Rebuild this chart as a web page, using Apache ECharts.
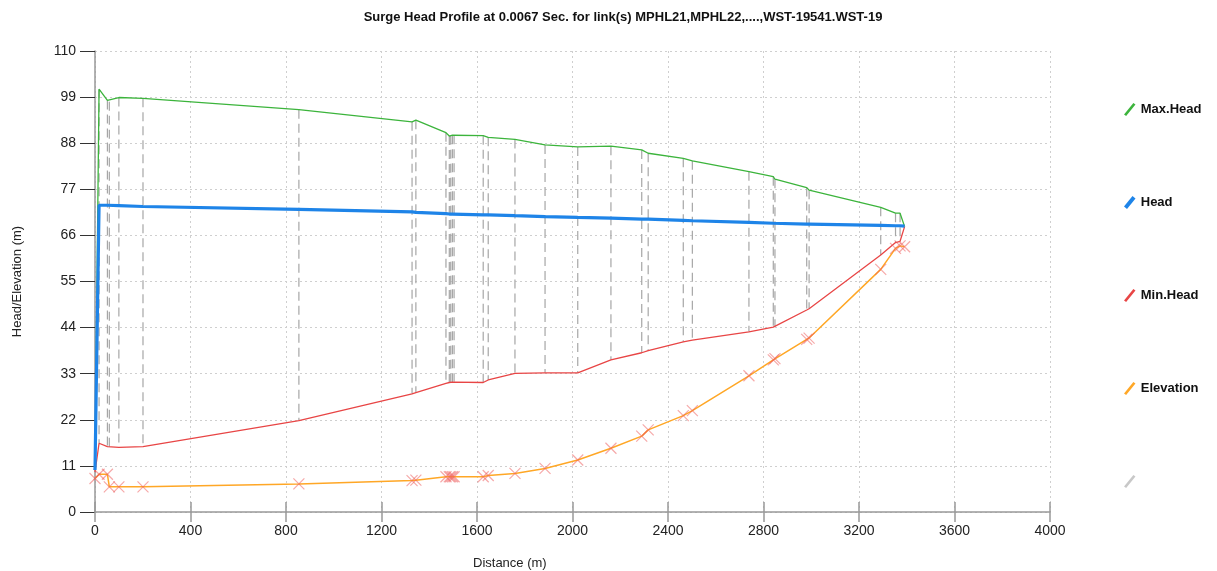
<!DOCTYPE html>
<html>
<head>
<meta charset="utf-8">
<script src="https://cdn.jsdelivr.net/npm/echarts@6/dist/echarts.min.js"></script>
<style>
html,body{margin:0;padding:0;background:#fff;}
#chart{width:1217px;height:571px;}
</style>
</head>
<body>
<div id="chart"></div>
<script>
// ---- data ----
const distance  = [0,17,52,60,100,201,854,1328,1344,1470,1484,1490,1497,1504,1626,1647,1759,1885,2022,2161,2290,2317,2464,2502,2739,2841,2848,2981,2991,3291,3353,3372,3391];
const maxHead   = [11.0,100.9,98.2,97.9,98.9,98.7,96.0,93.1,93.5,90.5,89.7,89.8,89.9,89.9,89.8,89.4,88.9,87.6,87.1,87.3,86.4,85.6,84.4,83.8,81.2,80.0,79.4,77.4,76.8,72.7,71.3,71.3,68.1];
const head      = [10.0,73.2,73.2,73.1,73.1,72.9,72.2,71.6,71.5,71.2,71.1,71.1,71.1,71.1,70.9,70.9,70.7,70.5,70.3,70.1,69.9,69.9,69.6,69.5,69.1,68.9,68.9,68.7,68.7,68.4,68.3,68.3,68.2];
const minHead   = [9.5,16.4,15.6,15.4,15.4,15.6,21.8,28.2,28.5,30.7,30.9,31.0,31.0,31.1,30.9,31.5,33.1,33.2,33.2,36.3,38.0,38.5,40.6,41.0,43.0,44.1,44.2,48.2,48.5,61.3,64.3,64.6,68.1];
const elevation = [8.0,9.0,9.0,6.0,6.0,6.0,6.7,7.5,7.6,8.4,8.4,8.4,8.4,8.4,8.4,8.7,9.2,10.4,12.4,15.2,18.1,19.6,23.0,24.2,32.5,36.3,36.6,41.2,41.5,57.9,62.9,63.5,63.3];
const seriesNames = ['Max.Head','Head','Min.Head','Elevation',' '];
const titleText = 'Surge Head Profile at 0.0067 Sec. for link(s) MPHL21,MPHL22,....,WST-19541.WST-19';
const xAxisTitle = 'Distance (m)';
const yAxisTitle = 'Head/Elevation (m)';

const pairs = (ys) => distance.map((d, i) => [d, ys[i]]);
const nodeRanges = distance.map((d, i) => [d, maxHead[i], minHead[i]]).slice(1, distance.length - 1);

const FONT = '"Liberation Sans", Arial, sans-serif';
const diag = 'path://M0,11 L9,0 L11,1.5 L2,12.5 Z';
const diagThick = 'path://M0,10.5 L8.5,0 L11.5,2.5 L3,13 Z';

const chart = echarts.init(document.getElementById('chart'), null, {renderer: 'canvas'});
const option = {
  animation: false,
  backgroundColor: '#fff',
  title: {
    text: titleText, left: 618, textAlign: 'center', top: 6,
    textStyle: {fontFamily: FONT, fontSize: 13, fontWeight: 'bold', color: '#111'}
  },
  legend: {
    orient: 'vertical', left: 1119, top: 98, itemGap: 80,
    itemWidth: 12, itemHeight: 13,
    textStyle: {fontFamily: FONT, fontSize: 13, fontWeight: 'bold', color: '#111'},
    data: [
      {name: seriesNames[0], icon: diag},
      {name: seriesNames[1], icon: diagThick},
      {name: seriesNames[2], icon: diag},
      {name: seriesNames[3], icon: diag},
      {name: seriesNames[4], icon: diag}
    ]
  },
  graphic: [{
    type: 'text', left: 473, top: 557,
    style: {text: xAxisTitle, font: '13px ' + FONT, fill: '#222'}
  }],
  grid: {left: 95, right: 167, top: 51, bottom: 59},
  xAxis: [{
    type: 'value', min: 0, max: 4000, interval: 400,
    axisLine: {show: true, lineStyle: {color: '#999', width: 1.5}},
    axisTick: {show: true, length: 10, lineStyle: {color: '#999', width: 1.5}},
    axisLabel: {margin: 12, fontFamily: FONT, fontSize: 14, color: '#222', formatter: (v) => String(v)},
    splitLine: {show: true, lineStyle: {color: '#cfcfcf', type: [2, 3], width: 1}}
  }, {
    type: 'value', min: 0, max: 4000, interval: 400, position: 'bottom',
    axisLine: {show: false},
    axisTick: {show: true, inside: true, length: 10, lineStyle: {color: '#999', width: 1.5}},
    axisLabel: {show: false},
    splitLine: {show: false}
  }],
  yAxis: {
    type: 'value', min: 0, max: 110, interval: 11,
    name: yAxisTitle, nameLocation: 'middle', nameGap: 71, nameRotate: 90,
    nameTextStyle: {fontFamily: FONT, fontSize: 13, color: '#222'},
    axisLine: {show: true, lineStyle: {color: '#999', width: 1.5}},
    axisTick: {show: true, length: 15, lineStyle: {color: '#333', width: 1}},
    axisLabel: {margin: 19, fontFamily: FONT, fontSize: 14, color: '#222'},
    splitLine: {show: true, lineStyle: {color: '#cfcfcf', type: [2, 3], width: 1}}
  },
  series: [
    {
      name: seriesNames[4], type: 'custom', xAxisIndex: 0, z: 1,
      itemStyle: {color: '#c8c8c8'},
      encode: {x: 0, y: [1, 2]},
      data: nodeRanges,
      renderItem: function (params, api) {
        const p1 = api.coord([api.value(0), api.value(1)]);
        const p2 = api.coord([api.value(0), api.value(2)]);
        return {
          type: 'line',
          shape: {x1: p1[0], y1: p1[1], x2: p2[0], y2: p2[1]},
          style: {stroke: '#a6a6a6', lineWidth: 1.2, lineDash: [9, 5]}
        };
      }
    },
    {
      name: seriesNames[0], type: 'line', data: pairs(maxHead), z: 3,
      showSymbol: false, itemStyle: {color: '#3cb43c'},
      lineStyle: {color: '#3cb43c', width: 1.3}
    },
    {
      name: seriesNames[2], type: 'line', data: pairs(minHead), z: 3,
      showSymbol: false, itemStyle: {color: '#e84545'},
      lineStyle: {color: '#e84545', width: 1.3}
    },
    {
      name: seriesNames[3], type: 'line', data: pairs(elevation), z: 3,
      showSymbol: false, itemStyle: {color: '#ffa726'},
      lineStyle: {color: '#ffa726', width: 1.5}
    },
    {
      name: 'elevMarkers', type: 'scatter', data: pairs(elevation), z: 4,
      symbol: 'path://M0,0L10,10M10,0L0,10', symbolSize: 11,
      itemStyle: {color: 'rgba(0,0,0,0)', borderColor: 'rgba(238,90,90,0.65)', borderWidth: 1.2}
    },
    {
      name: seriesNames[1], type: 'line', data: pairs(head), z: 5,
      showSymbol: false, itemStyle: {color: '#1e84e8'},
      lineStyle: {color: '#1e84e8', width: 3.2}
    }
  ]
};
chart.setOption(option);
</script>
</body>
</html>
